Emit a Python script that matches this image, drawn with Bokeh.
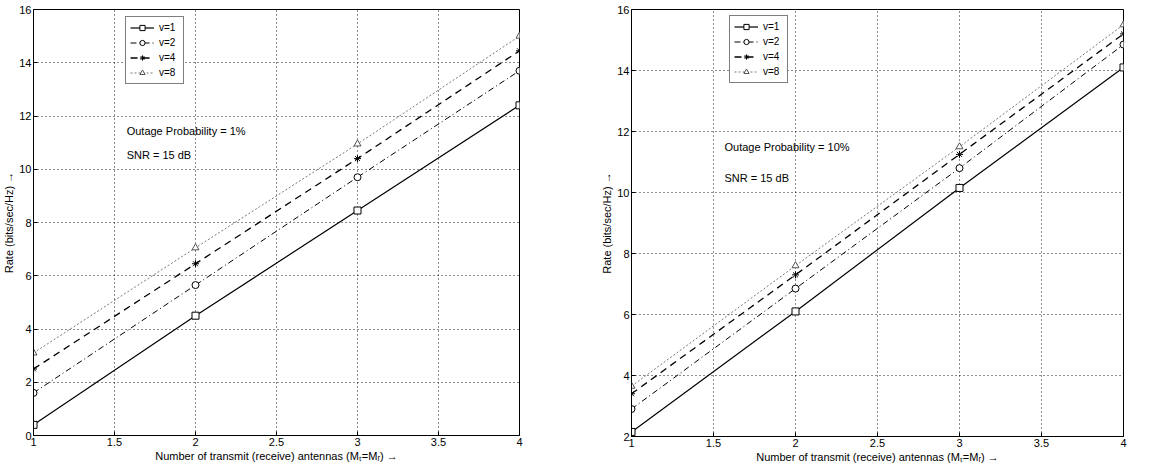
from bokeh.plotting import figure
from bokeh.layouts import row
from bokeh.models import Range1d, FixedTicker, Label, Legend
from bokeh.embed import file_html
from bokeh.resources import INLINE

# ---- data ----
antennas = [1, 2, 3, 4]
series_names = ["v=1", "v=2", "v=4", "v=8"]

# Left panel: outage probability 1%
left_v1 = [0.4, 4.5, 8.45, 12.4]
left_v2 = [1.6, 5.65, 9.7, 13.7]
left_v4 = [2.5, 6.45, 10.4, 14.45]
left_v8 = [3.1, 7.05, 10.95, 15.0]

# Right panel: outage probability 10%
right_v1 = [2.15, 6.1, 10.15, 14.1]
right_v2 = [2.9, 6.85, 10.8, 14.85]
right_v4 = [3.4, 7.3, 11.25, 15.2]
right_v8 = [3.65, 7.6, 11.5, 15.5]

x_ticks = [1, 1.5, 2, 2.5, 3, 3.5, 4]
left_y_ticks = [0, 2, 4, 6, 8, 10, 12, 14, 16]
right_y_ticks = [2, 4, 6, 8, 10, 12, 14, 16]

x_label = "Number of transmit (receive) antennas (M\u209c=M\u1d63) \u2192"
y_label = "Rate (bits/sec/Hz) \u2192"

FONT = "Liberation Sans"

styles = [
    dict(marker="square", dash="solid", width=1.2, color="black"),
    dict(marker="circle", dash="6 3 1 3", width=1.0, color="black"),
    dict(marker="asterisk", dash="7 5", width=1.3, color="black"),
    dict(marker="triangle", dash="2 2", width=0.8, color="#555555"),
]


def make_panel(series, y_ticks, y0, note, frame_w, frame_h, borders, legend_loc, note_pos):
    p = figure(output_backend="svg", toolbar_location=None,
               frame_width=frame_w, frame_height=frame_h,
               x_range=Range1d(1, 4), y_range=Range1d(y0, 16),
               min_border_left=borders[0], min_border_top=borders[1],
               min_border_right=borders[2], min_border_bottom=borders[3])
    p.background_fill_color = "white"
    p.outline_line_color = "black"
    p.outline_line_width = 1

    for ax, ticks in ((p.xaxis[0], x_ticks), (p.yaxis[0], y_ticks)):
        ax.ticker = FixedTicker(ticks=ticks)
        ax.major_tick_in = 4
        ax.major_tick_out = 0
        ax.minor_tick_in = 0
        ax.minor_tick_out = 0
        ax.axis_line_color = "black"
        ax.major_tick_line_color = "black"
        ax.major_label_text_font = FONT
        ax.major_label_text_font_size = "11px"
        ax.major_label_text_color = "black"
        ax.axis_label_text_font = FONT
        ax.axis_label_text_font_size = "11px"
        ax.axis_label_text_font_style = "normal"
        ax.axis_label_text_color = "black"
        ax.major_label_standoff = 2
        ax.axis_label_standoff = 1
    p.xaxis[0].axis_label = x_label
    p.yaxis[0].axis_label = y_label

    p.xgrid.ticker = FixedTicker(ticks=x_ticks)
    p.ygrid.ticker = FixedTicker(ticks=y_ticks)
    for g in (p.xgrid[0], p.ygrid[0]):
        g.grid_line_color = "black"
        g.grid_line_dash = "1 3"
        g.grid_line_width = 1
        g.grid_line_alpha = 0.9

    items = []
    for name, vals, st in zip(series_names, series, styles):
        r1 = p.line(antennas, vals, line_color=st["color"], line_dash=st["dash"],
                    line_width=st["width"])
        r2 = p.scatter(antennas, vals, marker=st["marker"], size=7,
                       line_color=st["color"], fill_color="white", line_width=1)
        items.append((name, [r1, r2]))

    leg = Legend(items=items, location=legend_loc)
    leg.label_text_font = FONT
    leg.label_text_font_size = "10px"
    leg.label_text_color = "black"
    leg.label_height = 13
    leg.glyph_height = 13
    leg.glyph_width = 24
    leg.label_standoff = 5
    leg.spacing = 2
    leg.padding = 4
    leg.margin = 0
    leg.border_line_color = "black"
    leg.border_line_width = 1
    leg.background_fill_color = "white"
    leg.background_fill_alpha = 1
    p.add_layout(leg, "center")

    p.add_layout(Label(x=note_pos[0], y=note_pos[1], text=f"Outage Probability = {note}",
                       text_font=FONT, text_font_size="11px", text_baseline="middle",
                       text_color="black"))
    p.add_layout(Label(x=note_pos[0], y=note_pos[2], text="SNR = 15 dB",
                       text_font=FONT, text_font_size="11px", text_baseline="middle",
                       text_color="black"))
    return p


p1 = make_panel([left_v1, left_v2, left_v4, left_v8], left_y_ticks, 0, "1%",
                486, 426, (27, 6, 79, 32), (92, 351), (1.575, 11.45, 10.52))
p2 = make_panel([right_v1, right_v2, right_v4, right_v8], right_y_ticks, 2, "10%",
                492, 427, (30, 9, 30, 28), (98, 353), (1.567, 11.5, 10.46))

layout = row(p1, p2)
open("out.html", "w").write(file_html(layout, INLINE))
